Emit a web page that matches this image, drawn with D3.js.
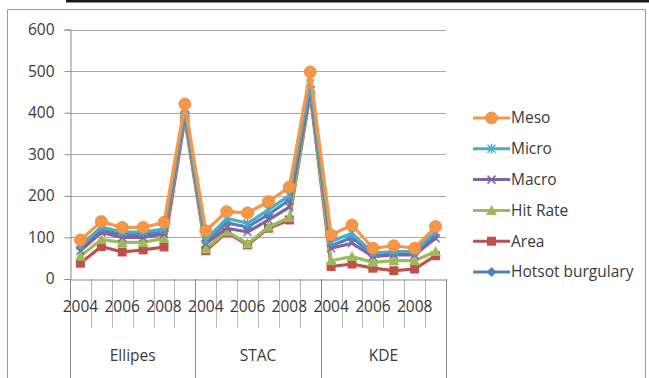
<!DOCTYPE html>
<html>
<head>
<meta charset="utf-8">
<script src="https://cdn.jsdelivr.net/npm/d3@7"></script>
<style>
  html, body { margin: 0; padding: 0; background: #fff; }
  svg { display: block; }
  text { font-family: "Open Sans", "Liberation Sans", sans-serif; fill: #3a3a3a; }
</style>
</head>
<body>
<svg id="chart" width="649" height="378"></svg>
<script>
// Categories: three methods, six years each
const groups = ["Ellipes", "STAC", "KDE"];
const years = [2004, 2005, 2006, 2007, 2008, 2009];
const yearLabels = ["2004", "", "2006", "", "2008", ""];
const yTicks = [0, 100, 200, 300, 400, 500, 600];

// Series values, in category order (Ellipes 2004..2009, STAC 2004..2009, KDE 2004..2009)
const hotsot  = [75, 118, 107, 107, 114, 400,  90, 135, 125, 155, 190, 462,  80, 100, 58, 62, 62, 104];
const area    = [38,  78,  65,  70,  77, 385,  68, 112,  82, 122, 142, 445,  30,  36, 26, 20, 24,  56];
const hitRate = [55,  95,  88,  88,  98, 390,  72, 115,  85, 125, 148, 450,  44,  54, 40, 44, 44,  66];
const macro   = [68, 112, 100, 100, 108, 395,  85, 122, 113, 142, 173, 455,  74,  86, 54, 58, 58,  98];
const micro   = [80, 125, 113, 113, 120, 405,  94, 146, 134, 166, 201, 470,  90, 110, 62, 66, 66, 114];
const meso    = [94, 138, 124, 124, 136, 421, 116, 162, 159, 186, 221, 498, 106, 130, 74, 80, 74, 126];

// Drawing order (first drawn at the bottom)
const series = [
  { name: "Hotsot burgulary", values: hotsot,  color: "#4f81bd", marker: "diamond" },
  { name: "Area",             values: area,    color: "#c0504d", marker: "square" },
  { name: "Hit Rate",         values: hitRate, color: "#9bbb59", marker: "triangle" },
  { name: "Macro",            values: macro,   color: "#8064a2", marker: "x" },
  { name: "Micro",            values: micro,   color: "#4bacc6", marker: "star" },
  { name: "Meso",             values: meso,    color: "#f79646", marker: "circle" }
];
const legendOrder = ["Meso", "Micro", "Macro", "Hit Rate", "Area", "Hotsot burgulary"];

const cats = [];
groups.forEach(g => years.forEach(y => cats.push(g + "|" + y)));

const svg = d3.select("#chart");
const plot = { left: 70, right: 446, top: 29.5, bottom: 279 };

const x = d3.scaleBand().domain(cats).range([plot.left, plot.right]).padding(0);
const y = d3.scaleLinear().domain([0, 600]).range([plot.bottom, plot.top]);

// page edge line and chart frame
svg.append("rect").attr("x", 66).attr("y", 0).attr("width", 583).attr("height", 2.5).attr("fill", "#1a1a1a");
svg.append("path")
  .attr("d", "M7.5,378 V9.5 H645.5 V378")
  .attr("fill", "none").attr("stroke", "#9a9a9a").attr("stroke-width", 1);

// gridlines
svg.append("g")
  .selectAll("line").data(yTicks.filter(d => d > 0)).join("line")
  .attr("x1", plot.left).attr("x2", plot.right)
  .attr("y1", d => Math.round(y(d)) + 0.5).attr("y2", d => Math.round(y(d)) + 0.5)
  .attr("stroke", "#a8a8a8").attr("stroke-width", 1.2);

// y axis
const yAxis = d3.axisLeft(y).tickValues(yTicks).tickSize(6).tickPadding(10);
const gy = svg.append("g").attr("transform", `translate(${plot.left + 0.5},0)`).call(yAxis);
gy.select(".domain").attr("stroke", "#8a8a8a");
gy.selectAll(".tick line").attr("stroke", "#8a8a8a");
gy.selectAll(".tick text").style("font-size", "15.5px").attr("fill", "#3a3a3a")
  .style("font-family", "'Open Sans', sans-serif");

// category boundary ticks (drawn beneath the labels)
const bounds = cats.map(c => x(c)).concat([plot.right]);
svg.append("g").selectAll("line").data(bounds).join("line")
  .attr("x1", d => Math.round(d) + 0.5).attr("x2", d => Math.round(d) + 0.5)
  .attr("y1", plot.bottom).attr("y2", (d, i) => i % 6 === 0 ? 378 : 328)
  .attr("stroke", (d, i) => i % 6 === 0 ? "#8a8a8a" : "#b8b8b8").attr("stroke-width", 1);

// x axis: first level (years)
const xAxis = d3.axisBottom(x).tickFormat((d, i) => yearLabels[i % 6]).tickSize(0).tickPadding(21);
const gx = svg.append("g").attr("transform", `translate(0,${plot.bottom + 0.5})`).call(xAxis);
gx.select(".domain").attr("stroke", "#8a8a8a");
gx.selectAll(".tick text").style("font-size", "15.5px").attr("fill", "#3a3a3a")
  .style("font-family", "'Open Sans', sans-serif");

// x axis: second level (groups)
svg.append("g").selectAll("text").data(groups).join("text")
  .attr("x", g => (x(g + "|" + years[0]) + x(g + "|" + years[5]) + x.bandwidth()) / 2)
  .attr("y", 361)
  .attr("text-anchor", "middle")
  .style("font-size", "15.5px")
  .text(g => g);

// markers
function drawMarker(sel, type, color) {
  if (type === "circle") {
    sel.append("circle").attr("r", 6).attr("fill", color).attr("stroke", "#e58a3c").attr("stroke-width", 0.8);
  } else if (type === "square") {
    sel.append("rect").attr("x", -4.5).attr("y", -4.5).attr("width", 9).attr("height", 9).attr("fill", color);
  } else if (type === "triangle") {
    sel.append("path").attr("d", "M0,-5.5 L5.5,4.5 L-5.5,4.5 Z").attr("fill", color);
  } else if (type === "diamond") {
    sel.append("path").attr("d", "M0,-5 L5,0 L0,5 L-5,0 Z").attr("fill", color);
  } else if (type === "x") {
    sel.append("path").attr("d", "M-4,-4 L4,4 M-4,4 L4,-4").attr("stroke", color).attr("stroke-width", 1.5);
  } else if (type === "star") {
    sel.append("path").attr("d", "M-4,-4 L4,4 M-4,4 L4,-4 M0,-5 L0,5").attr("stroke", color).attr("stroke-width", 1.5);
  }
}

const line = d3.line().x((d, i) => x(cats[i]) + x.bandwidth() / 2).y(d => y(d));

const sg = svg.append("g").selectAll("g").data(series).join("g");
sg.append("path")
  .attr("d", s => line(s.values))
  .attr("fill", "none")
  .attr("stroke", s => s.color)
  .attr("stroke-width", 3.2)
  .attr("stroke-linejoin", "round");
sg.each(function(s) {
  const g = d3.select(this);
  s.values.forEach((v, i) => {
    const m = g.append("g").attr("transform", `translate(${x(cats[i]) + x.bandwidth() / 2},${y(v)})`);
    drawMarker(m, s.marker, s.color);
  });
});

// legend
const lg = svg.append("g").selectAll("g").data(legendOrder.map(n => series.find(s => s.name === n))).join("g")
  .attr("transform", (d, i) => `translate(473,${118 + i * 30.8})`);
lg.append("line").attr("x1", 0).attr("x2", 37).attr("y1", 0).attr("y2", 0)
  .attr("stroke", d => d.color).attr("stroke-width", 3);
lg.each(function(d) {
  const m = d3.select(this).append("g").attr("transform", "translate(18.5,0)");
  drawMarker(m, d.marker, d.color);
});
lg.append("text").attr("x", 38).attr("y", 0).attr("dy", "0.35em")
  .style("font-size", "15.5px").text(d => d.name);
</script>
</body>
</html>
